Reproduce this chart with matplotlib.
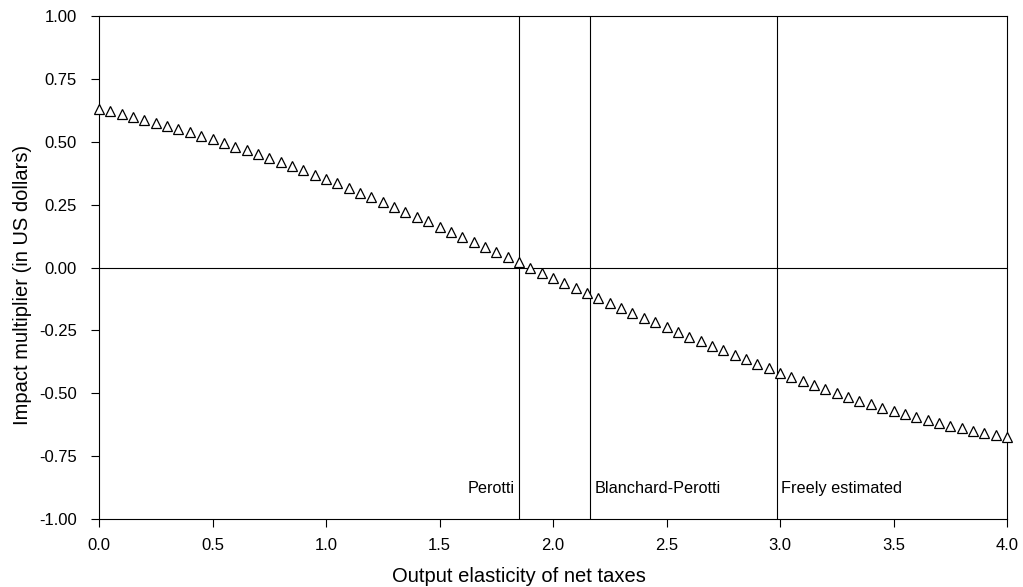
import numpy as np
import matplotlib
matplotlib.use("Agg")
import matplotlib.pyplot as plt

plt.rcParams['font.family'] = ['Liberation Sans', 'DejaVu Sans']

# output elasticity grid and impact multiplier
elasticity = [round(0.05 * i, 2) for i in range(81)]
multiplier = [
    0.632, 0.623, 0.612, 0.600, 0.588, 0.576, 0.563, 0.550, 0.537, 0.524,
    0.510, 0.496, 0.481, 0.466, 0.451, 0.435, 0.419, 0.403, 0.386, 0.369,
    0.352, 0.334, 0.316, 0.298, 0.279, 0.259, 0.239, 0.220, 0.202, 0.183,
    0.162, 0.142, 0.122, 0.102, 0.082, 0.061, 0.041, 0.020, 0.000, -0.020,
    -0.040, -0.061, -0.081, -0.102, -0.122, -0.142, -0.161, -0.180, -0.199, -0.216,
    -0.236, -0.255, -0.275, -0.293, -0.312, -0.328, -0.347, -0.364, -0.382, -0.400,
    -0.418, -0.434, -0.451, -0.467, -0.482, -0.498, -0.514, -0.529, -0.543, -0.557,
    -0.570, -0.583, -0.595, -0.607, -0.619, -0.629, -0.640, -0.649, -0.659, -0.667,
    -0.672,
]

# reference elasticities marked with vertical lines
ref_names = ["Perotti", "Blanchard-Perotti", "Freely estimated"]
ref_values = [1.85, 2.163, 2.985]

W, H = 1023, 587
fig = plt.figure(figsize=(W / 100, H / 100), dpi=100)
ax = fig.add_axes([99 / W, 1 - 519 / H, 908 / W, 503 / H])

ax.axhline(0, color="black", lw=0.8, zorder=1)
for name, xv in zip(ref_names, ref_values):
    ax.axvline(xv, color="black", lw=0.8, zorder=1)
    if name == "Perotti":
        ax.text(xv - 0.02, -0.88, name, ha="right", va="center", fontsize=11.7)
    else:
        ax.text(xv + 0.02, -0.88, name, ha="left", va="center", fontsize=11.7)

ax.plot(elasticity, multiplier, linestyle="none", marker="^", ms=6.5,
        mfc="white", mec="black", mew=0.9, zorder=3, clip_on=False)

ax.set_xlim(0, 4)
ax.set_ylim(-1, 1)
ax.set_xticks(np.arange(0, 4.01, 0.5))
ax.set_xticklabels([f"{v:.1f}" for v in np.arange(0, 4.01, 0.5)])
ax.set_yticks(np.arange(-1, 1.01, 0.25))
ax.set_yticklabels([f"{v:.2f}" for v in np.arange(-1, 1.01, 0.25)])
ax.tick_params(direction="out", length=6, width=0.8, labelsize=12)
ax.tick_params(axis="x", pad=8)
ax.tick_params(axis="y", pad=10)
for s in ax.spines.values():
    s.set_linewidth(0.8)

fig.text(519 / W, 1 - 576 / H, "Output elasticity of net taxes",
         ha="center", va="center", fontsize=14.5)
fig.text(23 / W, 1 - 285 / H, "Impact multiplier (in US dollars)",
         ha="center", va="center", rotation=90, fontsize=14.5)

fig.savefig("out.png", dpi=100)
